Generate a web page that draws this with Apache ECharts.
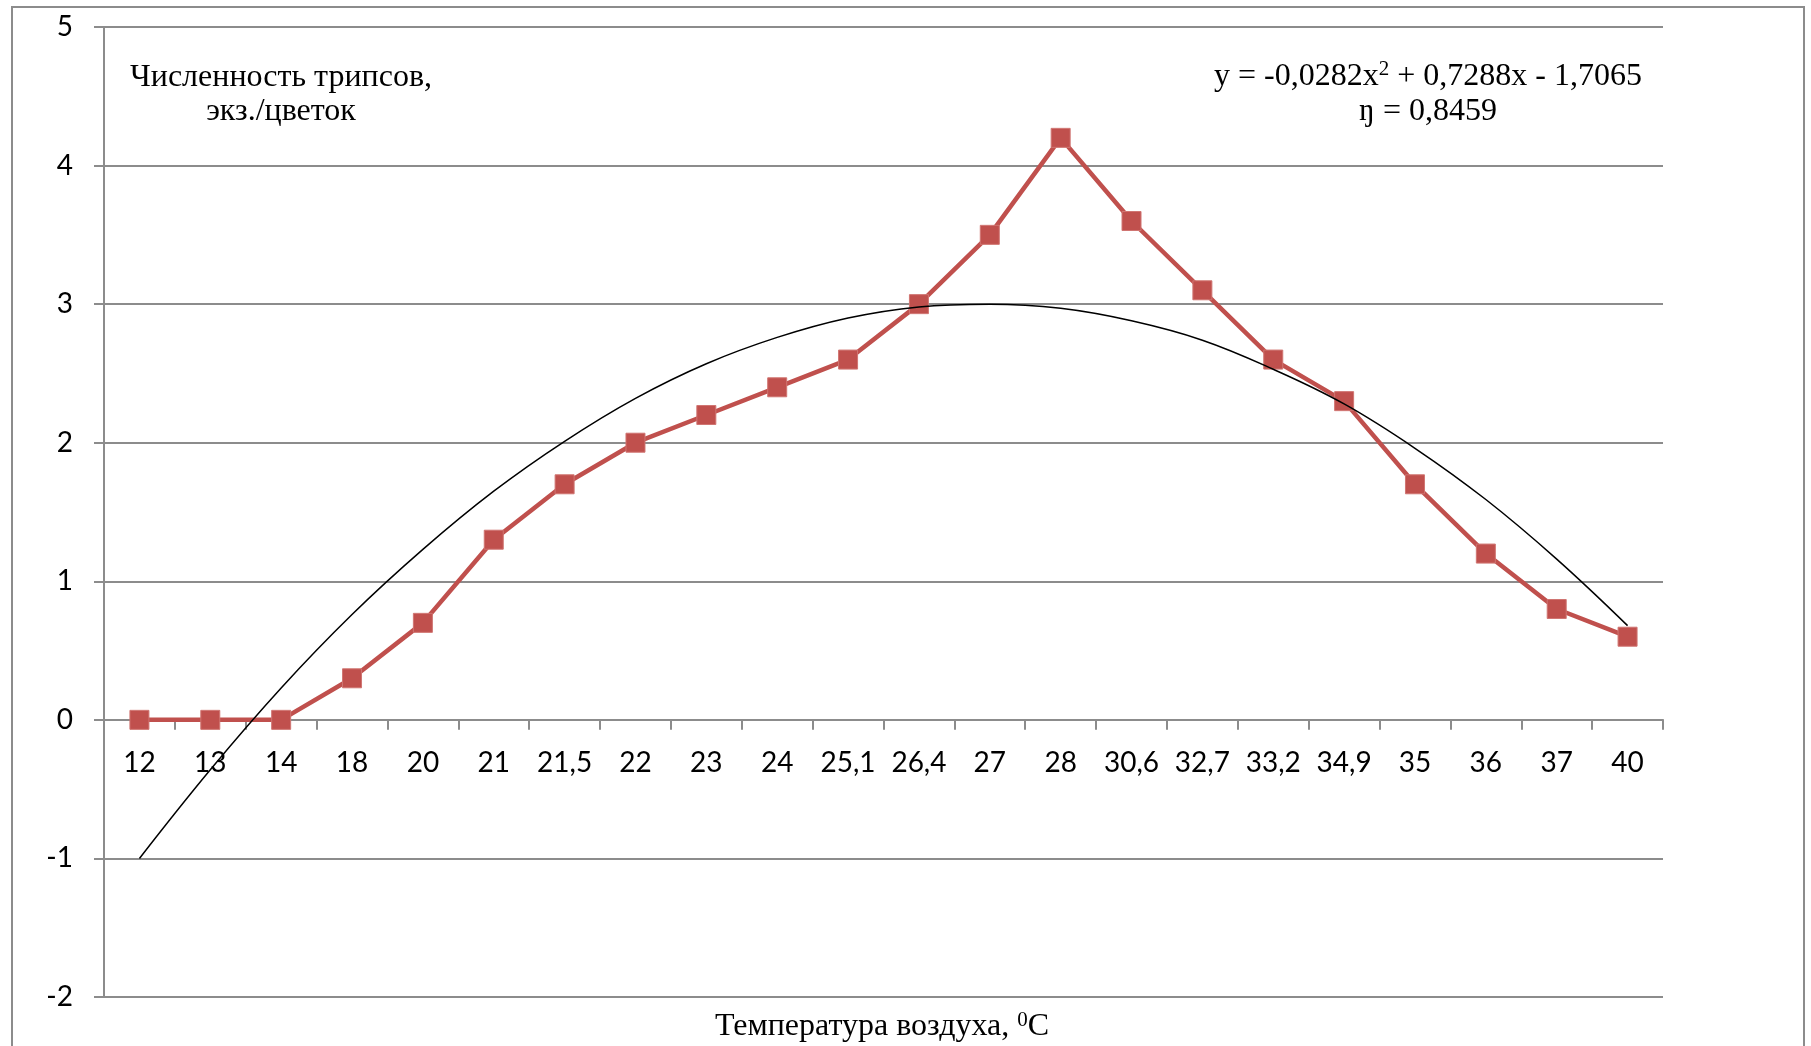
<!DOCTYPE html>
<html>
<head>
<meta charset="utf-8">
<script src="https://cdn.jsdelivr.net/npm/echarts@6/dist/echarts.min.js"></script>
<style>
html,body{margin:0;padding:0;background:#fff;}
#c{width:1811px;height:1046px;}
</style>
</head>
<body>
<div id="c"></div>
<script>
var categories = ['12','13','14','18','20','21','21,5','22','23','24','25,1','26,4','27','28','30,6','32,7','33,2','34,9','35','36','37','40'];
var thrips = [0,0,0,0.3,0.7,1.3,1.7,2.0,2.2,2.4,2.6,3.0,3.5,4.2,3.6,3.1,2.6,2.3,1.7,1.2,0.8,0.6];
var trend = [-1.0,-0.36,0.23,0.76,1.23,1.65,2.01,2.32,2.57,2.76,2.9,2.98,3.0,2.97,2.88,2.74,2.53,2.28,1.96,1.59,1.16,0.68];
var yTicks = {min:-2, max:5, interval:1};

var chart = echarts.init(document.getElementById('c'), null, {renderer:'canvas'});
var grey = '#8c8c8c';
var serif = '"Liberation Serif", "Times New Roman", serif';
var sans = 'Lato, "Open Sans", sans-serif';
var gridTop = 27, gridBottom = 49, H = 1046;
var plotH = H - gridTop - gridBottom;
var zeroOffset = -plotH * (0 - yTicks.min) / (yTicks.max - yTicks.min);
chart.setOption({
  backgroundColor:'#fff',
  animation:false,
  grid:{left:104, right:148, top:gridTop, bottom:gridBottom, containLabel:false},
  xAxis:{
    type:'category',
    data:categories,
    boundaryGap:true,
    position:'bottom',
    offset:zeroOffset,
    axisLine:{onZero:false, lineStyle:{color:grey, width:2}},
    axisTick:{show:true, length:10, inside:false, alignWithLabel:false, lineStyle:{color:grey, width:2}},
    axisLabel:{color:'#000', fontFamily:sans, fontSize:28, margin:29, interval:0},
    splitLine:{show:false}
  },
  yAxis:{
    type:'value',
    min:yTicks.min, max:yTicks.max, interval:yTicks.interval,
    axisLine:{show:true, lineStyle:{color:grey, width:2}},
    axisTick:{show:true, length:10, lineStyle:{color:grey, width:2}},
    axisLabel:{color:'#000', fontFamily:sans, fontSize:28, margin:31},
    splitLine:{show:true, lineStyle:{color:grey, width:2}}
  },
  series:[
    {
      type:'line', data:thrips, z:3,
      lineStyle:{color:'#C0504D', width:4.5},
      itemStyle:{color:'#C0504D', borderColor:'#D07572', borderWidth:1},
      symbol:'rect', symbolSize:19, showSymbol:true
    },
    {
      type:'line', data:trend, z:4, smooth:0.4,
      lineStyle:{color:'#000', width:1.5},
      symbol:'none'
    }
  ],
  graphic:[
    {type:'rect', shape:{x:12, y:7, width:1792, height:1100}, style:{fill:null, stroke:grey, lineWidth:2}, silent:true},
    {type:'text', x:281, y:95, style:{text:'Численность трипсов,\nэкз./цветок', font:'32px '+serif, fill:'#000', align:'center', verticalAlign:'middle', lineHeight:34}},
    {type:'text', x:1428, y:94, style:{text:'{a|y = -0,0282x}{s|2}{a| + 0,7288x - 1,7065}\n{a|ŋ = 0,8459}', align:'center', verticalAlign:'middle', fill:'#000',
      rich:{a:{fontFamily:serif, fontSize:32, lineHeight:35, fill:'#000'}, s:{fontFamily:serif, fontSize:21, lineHeight:35, padding:[0,0,14,0], fill:'#000'}}}},
    {type:'text', x:882, y:1027, style:{text:'{a|Температура воздуха, }{s|0}{a|C}', align:'center', verticalAlign:'middle', fill:'#000',
      rich:{a:{fontFamily:serif, fontSize:32, lineHeight:35, fill:'#000'}, s:{fontFamily:serif, fontSize:21, lineHeight:35, padding:[0,0,14,0], fill:'#000'}}}}
  ]
});
</script>
</body>
</html>
